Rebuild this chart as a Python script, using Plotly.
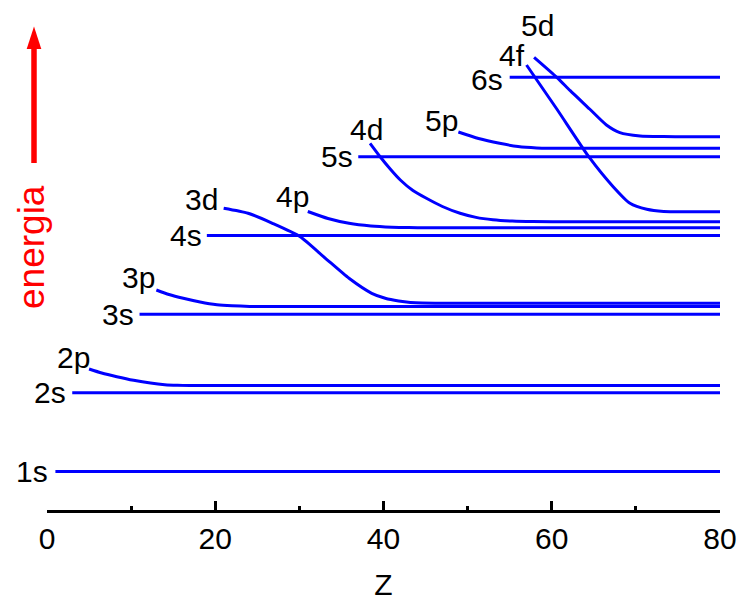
import plotly.graph_objects as go

# ---- data (Z = atomic number, E = relative orbital energy, arbitrary units) ----
orbitals = ["1s", "2s", "2p", "3s", "3p", "4s", "3d", "4p", "5s", "4d", "5p", "6s", "4f", "5d"]

Z_1s = [1, 80]
E_1s = [38.5, 38.5]
Z_2s = [3, 80]
E_2s = [117.3, 117.3]
Z_2p = [5, 6.5, 8.3, 10.3, 12.3, 14, 15.5, 17, 20, 80]
E_2p = [141, 137, 133.3, 129.7, 126.9, 125.3, 124.7, 124.5, 124.5, 124.5]
Z_3s = [11, 80]
E_3s = [195.7, 195.7]
Z_3p = [13, 14.5, 16.2, 18.2, 20.2, 22, 24.1, 27, 30, 80]
E_3p = [220, 215.5, 211.7, 208, 205.3, 204.2, 203.6, 203.5, 203.5, 203.5]
Z_4s = [19, 80]
E_4s = [274.5, 274.5]
Z_3d = [21, 23.9, 26.8, 30.1, 33.1, 35.9, 38.6, 40.2, 41.8, 43.2, 44.6, 47, 50, 80]
E_3d = [301.7, 296.7, 286.7, 273.3, 251.7, 231.7, 216.7, 211.8, 209, 207.5, 206.9, 206.7, 206.7, 206.7]
Z_4p = [31, 33.4, 35.9, 38.5, 41, 43, 45, 50, 80]
E_4p = [298.5, 291.5, 286.7, 284, 282.8, 282.4, 282.3, 282.3, 282.3]
Z_5s = [37, 80]
E_5s = [353.3, 353.3]
Z_4d = [38.4, 39.6, 40.8, 42, 43.5, 45.1, 47, 49.1, 51, 53, 55.3, 57.7, 62, 80]
E_4d = [366.7, 353.3, 341, 330, 319.5, 311.7, 303.5, 296.7, 292.6, 290.2, 288.9, 288.4, 288.3, 288.3]
Z_5p = [48.9, 51.3, 53.8, 56, 58.2, 60, 62, 80]
E_5p = [378, 371.5, 366.7, 363.5, 362.1, 361.8, 361.7, 361.7]
Z_6s = [55, 80]
E_6s = [432.7, 432.7]
Z_4f = [57, 60.6, 64.4, 67.3, 69.3, 71.3, 73.3, 76, 80]
E_4f = [445, 401, 353.3, 323.3, 306.7, 300.7, 298.6, 298.3, 298.3]
Z_5d = [57.9, 60.6, 62.2, 64.5, 66.5, 68.1, 70.5, 73.3, 76, 80]
E_5d = [452.7, 432.7, 419.3, 401, 385, 377.3, 374, 373.4, 373.3, 373.3]

x_ticks = [0, 20, 40, 60, 80]
x_title = "Z"
y_title = "energia"

series = {
    "1s": (Z_1s, E_1s), "2s": (Z_2s, E_2s), "2p": (Z_2p, E_2p),
    "3s": (Z_3s, E_3s), "3p": (Z_3p, E_3p), "4s": (Z_4s, E_4s),
    "3d": (Z_3d, E_3d), "4p": (Z_4p, E_4p), "5s": (Z_5s, E_5s),
    "4d": (Z_4d, E_4d), "5p": (Z_5p, E_5p), "6s": (Z_6s, E_6s),
    "4f": (Z_4f, E_4f), "5d": (Z_5d, E_5d),
}

# label offsets (pixels) relative to each curve's first point
label_shift = {
    "1s": (-7, 0), "2s": (-6, 0), "3s": (-6, 0), "4s": (-5, 0), "5s": (-5, 0), "6s": (-7, -2),
    "2p": (1, 11.5), "3p": (-1.5, 12.5), "3d": (-6, 9), "4p": (1, 15.5),
    "4d": (13, 14), "5p": (0, 11.5), "4f": (-2, 9.5), "5d": (20, 32),
}

FONT = "Liberation Sans, Arial, sans-serif"
BLUE = "#0000FF"

fig = go.Figure()
for name in orbitals:
    zs, es = series[name]
    fig.add_trace(go.Scatter(
        x=zs, y=es, mode="lines", name=name,
        line=dict(color=BLUE, width=3, shape="spline", smoothing=0.6),
        hoverinfo="x+y+name",
    ))
    dx, dy = label_shift[name]
    fig.add_annotation(
        x=zs[0], y=es[0], xref="x", yref="y", text=name, showarrow=False,
        xanchor="right", yanchor="middle", xshift=dx, yshift=dy,
        font=dict(family=FONT, size=30, color="black"),
        borderpad=0, borderwidth=0,
    )

L, R, T, B = 47, 20, 10, 91
W, H = 740, 601
PW, PH = W - L - R, H - T - B


def px(x):
    return (x - L) / PW


def py(y):
    return (H - B - y) / PH


# red energy arrow
ax_x = 34
fig.add_shape(type="line", xref="paper", yref="paper",
              x0=px(ax_x), x1=px(ax_x), y0=py(163), y1=py(47),
              line=dict(color="red", width=5.5))
fig.add_shape(type="path", xref="paper", yref="paper",
              path=f"M {px(ax_x)} {py(26.5)} L {px(ax_x - 7.3)} {py(49)} L {px(ax_x + 7.3)} {py(49)} Z",
              fillcolor="red", line=dict(color="red", width=0))
fig.add_annotation(x=px(31), y=py(247), xref="paper", yref="paper", text=y_title,
                   showarrow=False, textangle=-90, xanchor="center", yanchor="middle",
                   font=dict(family=FONT, size=37, color="red"))

fig.update_layout(
    width=W, height=H,
    margin=dict(l=L, r=R, t=T, b=B, autoexpand=False),
    paper_bgcolor="white", plot_bgcolor="white",
    showlegend=False,
    xaxis=dict(
        range=[0, 80], tickvals=x_ticks, ticks="inside", ticklen=9, tickwidth=2.5,
        tickcolor="black", showline=True, linecolor="black", linewidth=2.5,
        showgrid=False, zeroline=False, mirror=False,
        tickfont=dict(family=FONT, size=30, color="black"),
        minor=dict(ticks="inside", ticklen=4, tickwidth=2.5, tickcolor="black", dtick=10, showgrid=False),
        title=dict(text=x_title, font=dict(family=FONT, size=30, color="black"), standoff=21),
        automargin=False,
        fixedrange=True,
    ),
    yaxis=dict(range=[0, 500], visible=False, fixedrange=True),
)

fig.write_html("out.html", config={"displayModeBar": False},
               post_script="document.body.style.margin='0';document.body.style.overflow='hidden';")
